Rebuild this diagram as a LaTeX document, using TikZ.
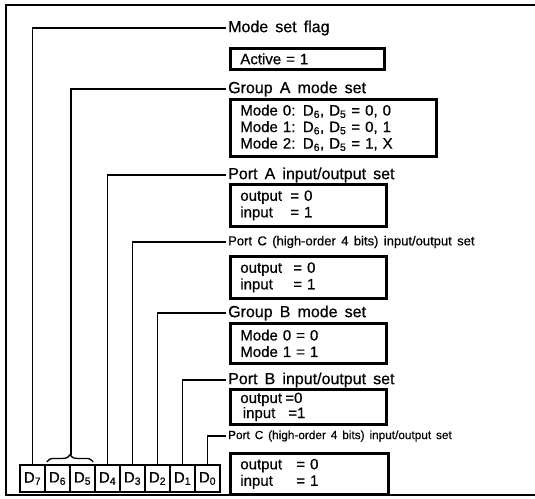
\documentclass[tikz,border=0pt]{standalone}
\usepackage{fontspec}
\setmainfont{Liberation Sans}[WordSpace=1.6, FakeBold=0.6]
\newfontfamily\narrowfont{Liberation Sans}[WordSpace=1.5, FakeBold=0.4]
\usetikzlibrary{decorations.pathreplacing,calc}
\newcommand\kv[3]{\makebox[#1][l]{#2}#3}
\begin{document}
\begin{tikzpicture}[x=1pt,y=-1pt,
  frameline/.style={line width=2.6pt},
  conn/.style={line width=1.3pt},
  lbl/.style={anchor=west, inner xsep=2pt, inner ysep=0pt, font=\fontsize{16}{19}\selectfont},
  smlbl/.style={anchor=west, inner xsep=2pt, inner ysep=0pt, font=\narrowfont\fontsize{13}{16}\selectfont},
  regbox/.style={draw, line width=2.7pt, anchor=north west, inner xsep=10pt, inner ysep=0pt, align=left, font=\fontsize{15}{16.5}\selectfont},
  cell/.style={draw, line width=2.2pt, minimum width=25pt, minimum height=27pt, inner sep=0pt, font=\fontsize{15}{16}\selectfont}]
\useasboundingbox (0,0) rectangle (535,498);
\draw[frameline] (535,5) -- (6,5) -- (6,495) -- (535,495);

% register bits
\node[cell] (d7) at (32.5,478.5) {D\textsubscript{7}};
\node[cell] (d6) at (57.5,478.5) {D\textsubscript{6}};
\node[cell] (d5) at (82.5,478.5) {D\textsubscript{5}};
\node[cell] (d4) at (107.5,478.5) {D\textsubscript{4}};
\node[cell] (d3) at (132.5,478.5) {D\textsubscript{3}};
\node[cell] (d2) at (157.5,478.5) {D\textsubscript{2}};
\node[cell] (d1) at (182.5,478.5) {D\textsubscript{1}};
\node[cell] (d0) at (207.5,478.5) {D\textsubscript{0}};

% labels
\node[lbl] (lmf) at (226,28) {Mode set flag};
\node[lbl] (lga) at (226,89) {Group A mode set};
\node[lbl] (lpa) at (226,175) {Port A input/output set};
\node[smlbl] (lpc) at (226,242) {Port C (high-order 4 bits) input/output set};
\node[lbl] (lgb) at (226,313) {Group B mode set};
\node[lbl] (lpb) at (226,380) {Port B input/output set};
\node[smlbl, font=\narrowfont\fontsize{11.8}{15}\selectfont] (lpc2) at (226,436) {Port C (high-order 4 bits) input/output set};

% boxes
\node[regbox, text width=134pt, minimum height=21pt] (bmf) at (229,47) {Active = 1};
\node[regbox, text width=186pt, minimum height=57pt] (bga) at (229,98)
  {Mode 0: D\textsubscript{6}, D\textsubscript{5} = 0, 0\\
   Mode 1: D\textsubscript{6}, D\textsubscript{5} = 0, 1\\
   Mode 2: D\textsubscript{6}, D\textsubscript{5} = 1, X};
\node[regbox, text width=136pt, minimum height=42pt] (bpa) at (229,183)
  {\kv{50pt}{output}{= 0}\\ \kv{50pt}{input}{= 1}};
\node[regbox, text width=136pt, minimum height=42pt] (bpc) at (229,255)
  {\kv{53pt}{output}{= 0}\\ \kv{53pt}{input}{= 1}};
\node[regbox, text width=136pt, minimum height=40pt] (bgb) at (229,322)
  {Mode 0 = 0\\ Mode 1 = 1};
\node[regbox, text width=136pt, minimum height=35pt, font=\fontsize{15}{15}\selectfont] (bpb) at (229,388)
  {\kv{45pt}{output}{=0}\\ \kv{48pt}{\,input}{=1}};
\node[regbox, text width=138pt, minimum height=41pt] (bpc2) at (229,452)
  {\kv{56pt}{output}{= 0}\\ \kv{56pt}{input}{= 1}};

% brace over D6 D5
\draw[conn, decorate, decoration={brace, amplitude=7pt}]
  ($(d6.north west)+(3,-2)$) -- ($(d5.north east)+(-3,-2)$);
\coordinate (gatip) at ($(d6.north east)+(0,-9)$);

% connectors
\draw[conn] (d7.north) |- (lmf.west);
\draw[conn] (gatip) |- (lga.west);
\draw[conn] (d4.north) |- (lpa.west);
\draw[conn] (d3.north) |- (lpc.west);
\draw[conn] (d2.north) |- (lgb.west);
\draw[conn] (d1.north) |- (lpb.west);
\draw[conn] (d0.north) |- (lpc2.west);
\end{tikzpicture}
\end{document}
